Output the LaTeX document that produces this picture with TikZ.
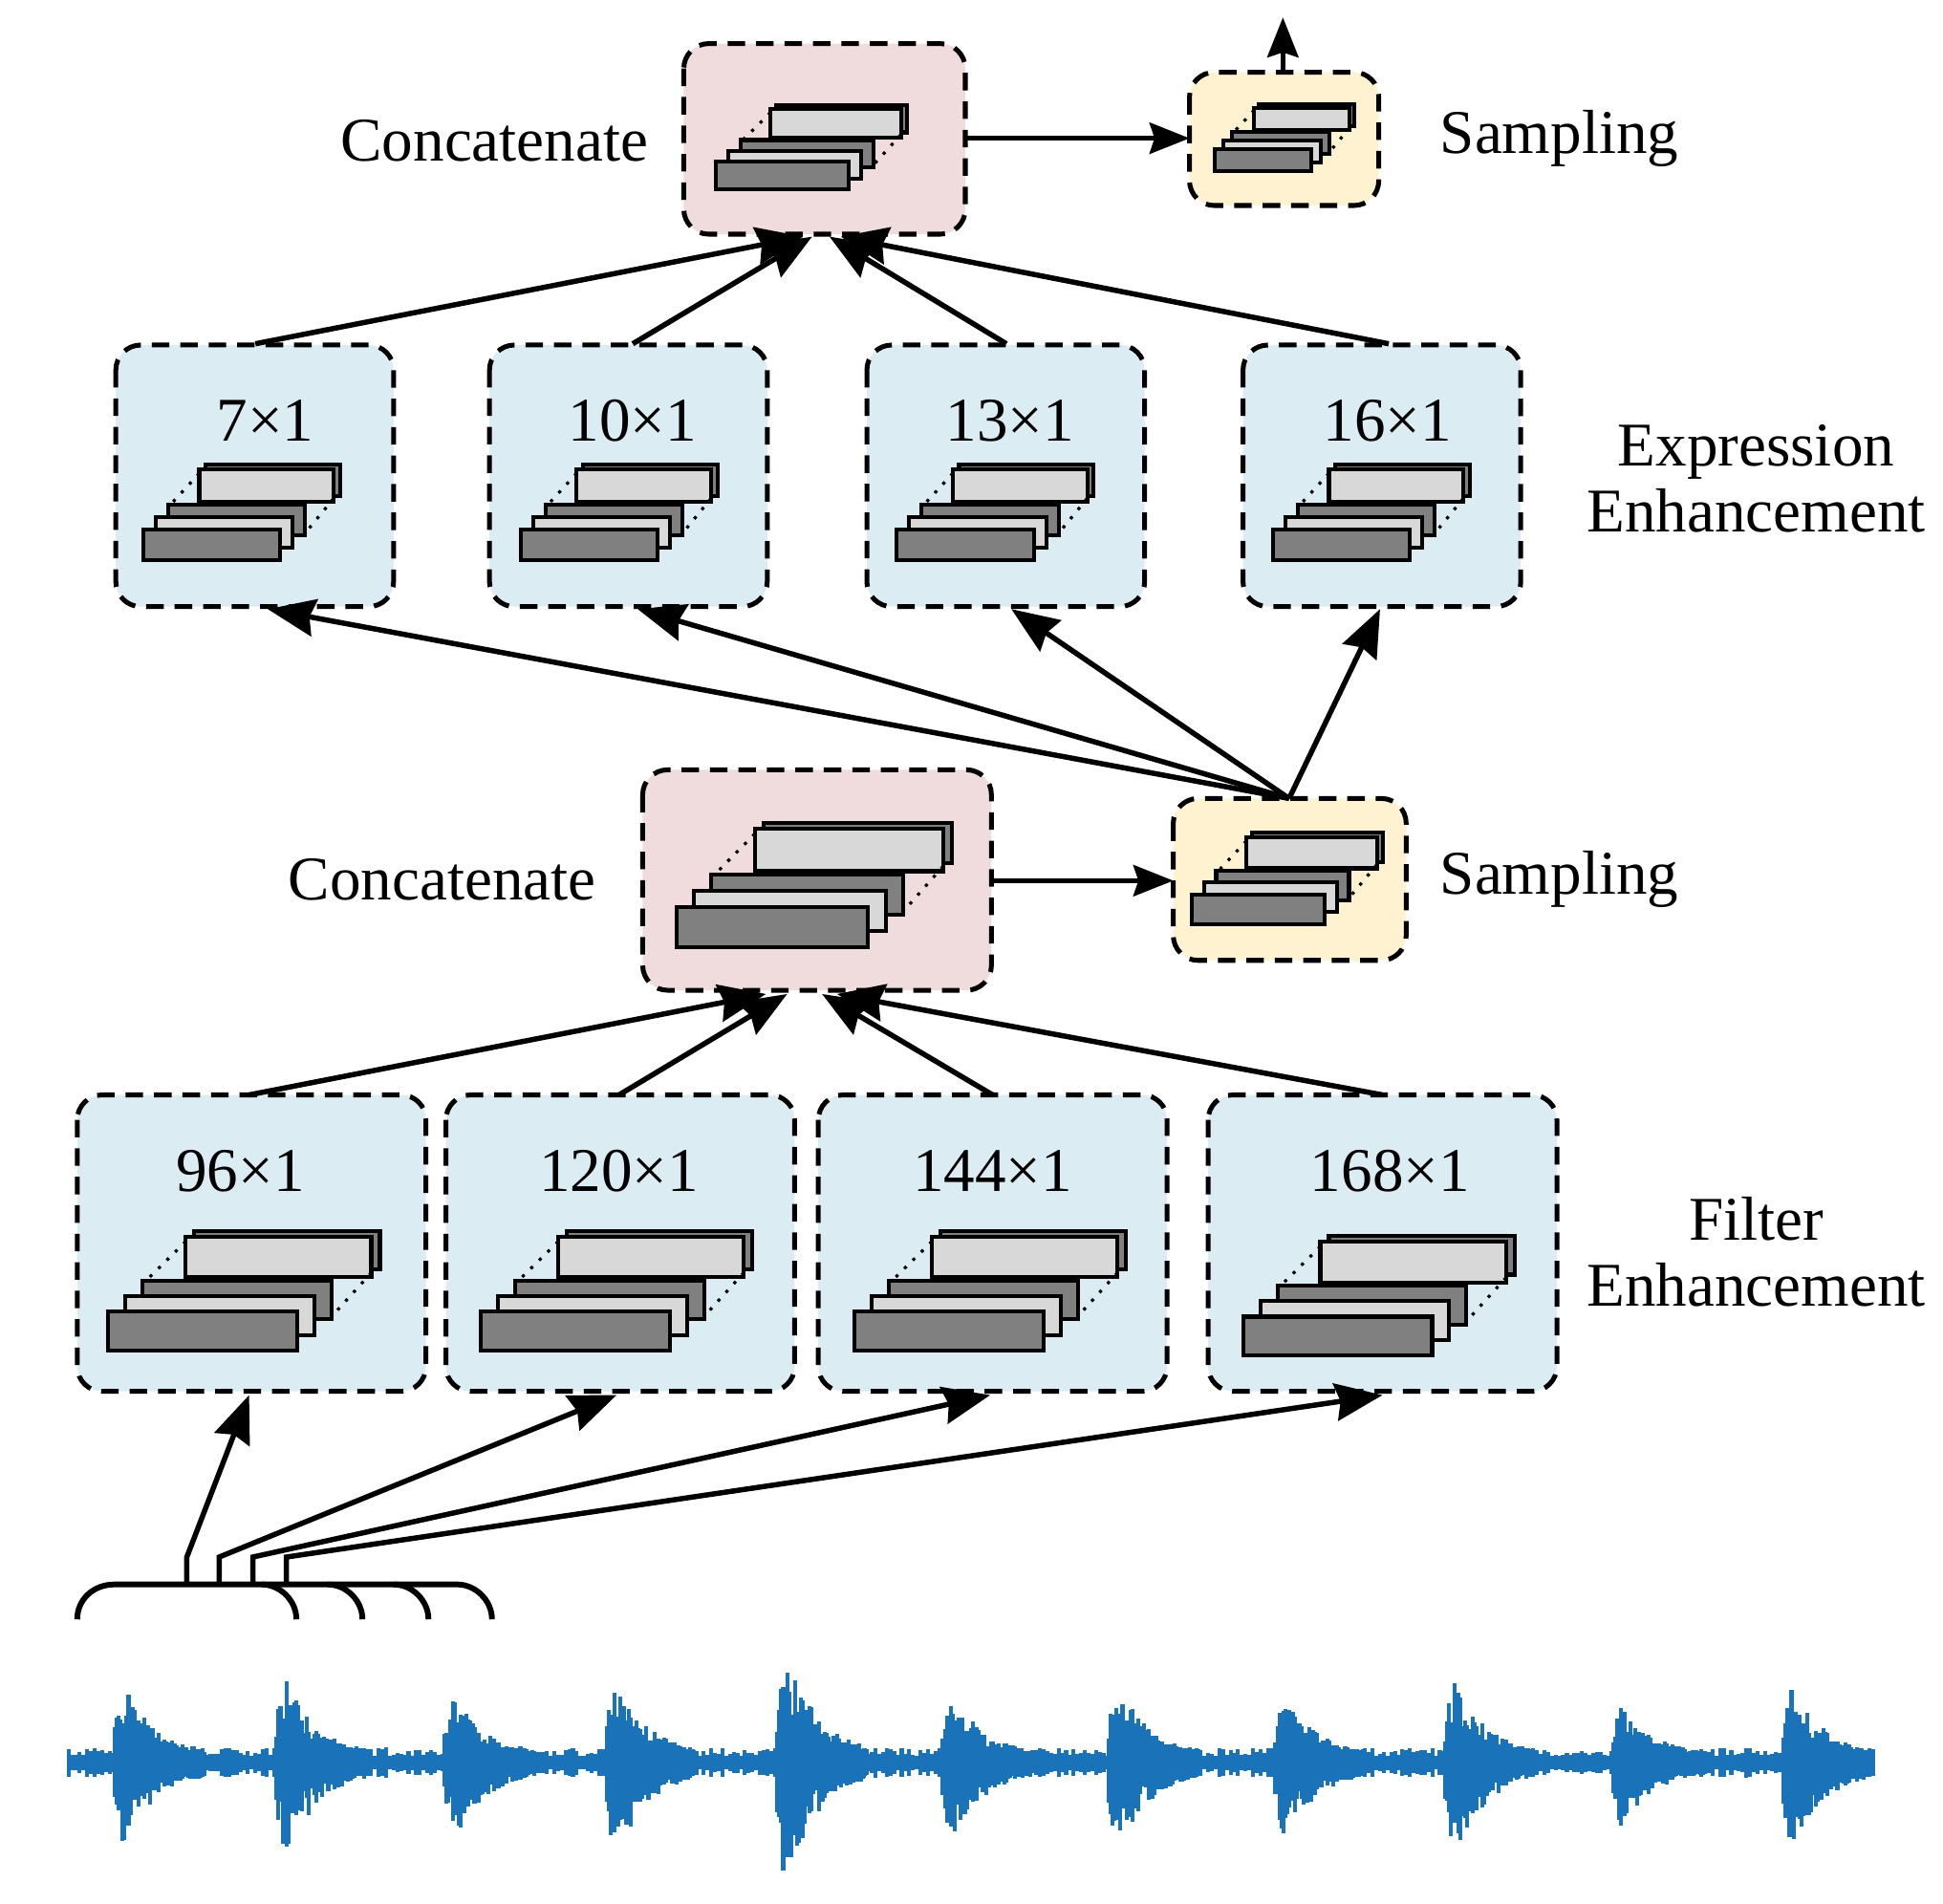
\documentclass[tikz,border=0pt]{standalone}
\usepackage{fontspec}
\setmainfont{Liberation Serif}
\usetikzlibrary{arrows.meta}
\definecolor{pinkf}{RGB}{240,220,220}
\definecolor{bluef}{RGB}{219,237,243}
\definecolor{yelf}{RGB}{255,242,208}
\definecolor{wave}{RGB}{26,114,184}
\definecolor{dk}{RGB}{128,128,128}
\definecolor{lt}{RGB}{216,216,216}
\tikzset{
 box/.style={draw,line width=1.1pt,dash pattern=on 4pt off 2.5pt,rounded corners=0.2cm},
 lab/.style={font=\fontsize{14.2}{17}\selectfont,align=center},
 arr/.style={line width=1.2pt,-{Stealth[length=0.38cm,width=0.3cm,inset=0.04cm]}},
 sarr/.style={line width=1.1pt,-{Stealth[length=0.32cm,width=0.25cm,inset=0.04cm]}},
 lay/.style={draw,line width=0.9pt}
}
\newcommand{\myicon}[4]{% x y sx sy
\begin{scope}[shift={(#1,#2)},xscale=#3,yscale=#4]
 \draw[lay,fill=dk] (50,-52) rectangle (158,-27);
 \draw[lay,fill=lt] (45,-48) rectangle (153,-22);
 \draw[lay,fill=dk] (20,-20) rectangle (130,5);
 \draw[lay,fill=lt] (10,-10) rectangle (120,15);
 \draw[lay,fill=dk] (0,0) rectangle (110,25);
 \draw[line width=0.7pt,dotted] (45,-45)--(22,-20) (153,-25)--(130,3);
\end{scope}}
\begin{document}
\begin{tikzpicture}[x=0.01cm,y=-0.01cm]
\useasboundingbox (0,0) rectangle (1560,1528);
% waveform
\pgfmathsetseed{7}
\foreach \x in {55,58,...,1505}{
 \pgfmathsetmacro\a{5+7*rnd}
 \draw[wave,line width=0.9pt] (\x,1415-\a)--(\x,1415+\a);}
\foreach \c/\A in {100/75,230/80,365/65,495/80,632/105,765/65,898/75,1032/65,1168/80,1303/50,1440/72}{
 \foreach \i in {0,...,45}{
  \pgfmathsetmacro\xx{\c-8+\i*1.6}
  \pgfmathsetmacro\env{\A*min(1,(\i+2)/6)*exp(-\i/17)}
  \pgfmathsetmacro\a{\env*(0.4+0.6*rnd)+6}
  \pgfmathsetmacro\b{1.15*\env*(0.4+0.6*rnd)+6}
  \draw[wave,line width=0.9pt] (\xx,1415-\a)--(\xx,1415+\b);}}
% boxes
\draw[box,fill=pinkf] (549,35) rectangle (775,188);
\draw[box,fill=yelf] (955,58) rectangle (1107,165);
\draw[box,fill=pinkf] (516,618) rectangle (796,795);
\draw[box,fill=yelf] (942,641) rectangle (1129,771);
\foreach \a in {93,393,696,998}{\draw[box,fill=bluef] (\a,277) rectangle (\a+223,487);}
\draw[box,fill=bluef] (62,879) rectangle (342,1117);
\draw[box,fill=bluef] (358,879) rectangle (638,1117);
\draw[box,fill=bluef] (657,879) rectangle (937,1117);
\draw[box,fill=bluef] (970,879) rectangle (1250,1117);
% coordinates
\coordinate (tcR) at (775,111);
\coordinate (tsL) at (955,111); \coordinate (tsT) at (1030,58); \coordinate (out) at (1030,14);
\coordinate (mcR) at (796,707);
\coordinate (msL) at (942,707); \coordinate (msT) at (1035,641);
% icons
\myicon{575}{130}{0.97}{0.88}
\myicon{975}{120}{0.71}{0.7}
\myicon{543}{728}{1.4}{1.3}
\myicon{957}{718}{0.97}{0.95}
\foreach \a in {115,418,720,1022}{\myicon{\a}{425}{1}{1}}
\myicon{87}{1053}{1.38}{1.25}
\myicon{386}{1053}{1.38}{1.25}
\myicon{686}{1053}{1.38}{1.25}
\myicon{998}{1057}{1.38}{1.25}
% labels
\node[lab] (l1) at (397,113) {Concatenate};
\node[lab] (l2) at (1252,111) {Sampling};
\node[lab] (l3) at (355,706) {Concatenate};
\node[lab] (l4) at (1252,706) {Sampling};
\node[lab] (l5) at (1410,384) {Expression\\[-2pt]Enhancement};
\node[lab] (l6) at (1410,1005) {Filter\\[-2pt]Enhancement};
\node[lab] (e1) at (213,338) {7×1};
\node[lab] (e2) at (508,338) {10×1};
\node[lab] (e3) at (811,338) {13×1};
\node[lab] (e4) at (1114,338) {16×1};
\node[lab] (f1) at (193,940) {96×1};
\node[lab] (f2) at (497,940) {120×1};
\node[lab] (f3) at (797,940) {144×1};
\node[lab] (f4) at (1116,940) {168×1};
% arrows
\draw[sarr] (tcR)--(tsL);
\draw[sarr] (tsT)--(out);
\draw[arr] (205,276)--(645,190);
\draw[arr] (508,276)--(652,190);
\draw[arr] (808,276)--(666,190);
\draw[arr] (1115,276)--(675,190);
\draw[arr] (msT)--(215,489);
\draw[arr] (msT)--(512,489);
\draw[arr] (msT)--(812,489);
\draw[arr] (msT)--(1108,489);
\draw[sarr] (mcR)--(msL);
\draw[arr] (200,879)--(615,798);
\draw[arr] (497,879)--(632,798);
\draw[arr] (797,879)--(660,798);
\draw[arr] (1110,879)--(672,798);
\draw[arr] (150,1272)--(150,1250)--(200,1120);
\draw[arr] (176,1272)--(176,1250)--(495,1120);
\draw[arr] (203,1272)--(203,1250)--(795,1120);
\draw[arr] (230,1272)--(230,1250)--(1110,1120);
% bracket
\draw[line width=1.3pt] (62,1300) .. controls (62,1284) and (75,1272) .. (92,1272) -- (367,1272) .. controls (382,1272) and (395,1285) .. (395,1300);
\foreach \x in {210,263,316}{\draw[line width=1.3pt] (\x,1272) .. controls (\x+15,1272) and (\x+28,1285) .. (\x+28,1300);}
\end{tikzpicture}
\end{document}
